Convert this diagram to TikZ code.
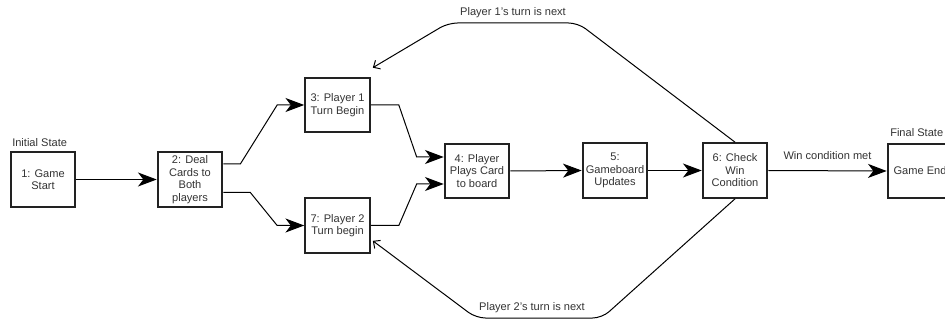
\documentclass[tikz,border=0pt]{standalone}
\usepackage{fontspec}
\setmainfont{Liberation Sans}
\usetikzlibrary{arrows.meta,calc}
\definecolor{txt}{HTML}{333333}
\definecolor{brd}{HTML}{222222}
\begin{document}
\begin{tikzpicture}[x=0.75pt,y=-0.75pt,
  box/.style={draw=brd, line width=1.5pt, minimum width=48.5pt, minimum height=41pt,
    inner sep=0pt, align=center, font=\fontsize{8.3}{9.4}\selectfont, text=txt},
  lab/.style={inner sep=0pt, font=\fontsize{8.3}{9.4}\selectfont, text=txt},
  conn/.style={draw=black, line width=0.75pt},
  big/.style={conn, -{Stealth[length=14pt,width=10.5pt,inset=4pt]}},
  small/.style={conn, -{Straight Barb[length=4pt,width=7.5pt]}}]
\useasboundingbox (0,0) rectangle (945,320);
\clip (0,0) rectangle (945,320);
% nodes
\node[box] (n1) at (43,179.5) {1: Game\\Start};
\node[box] (n2) at (190,179.5) {2: Deal\\Cards to\\Both\\players};
\node[box] (n3) at (337.5,105) {3: Player 1\\Turn Begin};
\node[box] (n7) at (337.5,225.5) {7: Player 2\\Turn begin};
\node[box] (n4) at (477,171) {4: Player\\Plays Card\\to board};
\node[box] (n5) at (615,170.5) {5:\\Gameboard\\Updates};
\node[box] (n6) at (735,170.5) {6: Check\\Win\\Condition};
\node[box] (nf) at (920,171) {Game End};
% state labels
\node[lab, anchor=west] (li) at (12,143) {Initial State};
\node[lab, anchor=west] (lf) at (890,133) {Final State};
% connectors
\draw[big] (n1.east) -- (n2.west);
\draw[big] ($(n2.east)+(0,-15.5)$) -- ++(17,0) -- ($(n3.west)+(-27,0)$) -- (n3.west);
\draw[big] ($(n2.east)+(0,13)$) -- ++(27,0) -- ($(n7.west)+(-27,0)$) -- (n7.west);
\draw[big] (n3.east) -- ++(28,0) -- ($(n4.west)+(-27,-14)$) -- ($(n4.west)+(0,-14)$);
\draw[big] (n7.east) -- ++(28,0) -- ($(n4.west)+(-27,13)$) -- ($(n4.west)+(0,13)$);
\draw[big] (n4.east) -- (n5.west);
\draw[big] (n5.east) -- (n6.west);
\draw[big] (n6.east) -- node[lab, above=8pt] (lw) {Win condition met} (nf.west);
% loops
\coordinate (t1) at (578,23);
\coordinate (t2) at (448,23);
\coordinate (b1) at (602,318);
\coordinate (b2) at (476,318);
\draw[small, rounded corners=7pt] (n6.north) -- (t1) -- (t2) -- ($(n3.north east)+(2,-9)$);
\draw[small, rounded corners=7pt] (n6.south) -- (b1) -- (b2) -- ($(n7.south east)+(2,-13)$);
\node[lab] (l1) at (513,13) {Player 1's turn is next};
\node[lab] (l2) at (532,308) {Player 2's turn is next};
\end{tikzpicture}
\end{document}
